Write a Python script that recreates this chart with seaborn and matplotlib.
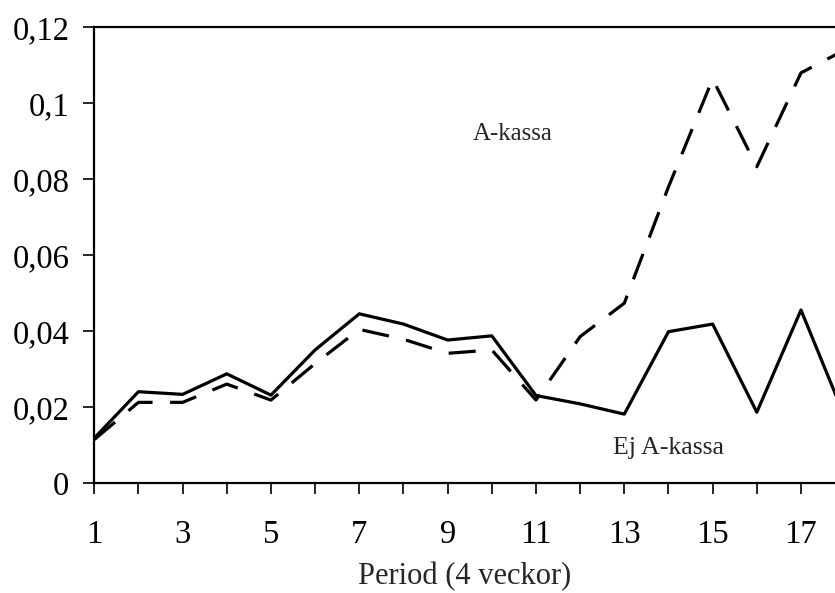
import pandas as pd
import matplotlib
matplotlib.use("Agg")
import matplotlib.pyplot as plt
import seaborn as sns

# --- Data ---
periods = list(range(1, 19))
ej_akassa = [0.0119, 0.0241, 0.0234, 0.0288, 0.0232, 0.0351, 0.0446, 0.0419, 0.0377,
             0.0388, 0.0231, 0.0209, 0.0182, 0.0399, 0.0419, 0.0187, 0.0456, 0.0172]
akassa = [0.0115, 0.0213, 0.0213, 0.0261, 0.0219, 0.0315, 0.0405, 0.0379, 0.0342,
          0.0351, 0.0219, 0.0386, 0.0474, 0.0780, 0.1064, 0.0833, 0.1080, 0.1141]
y_ticks = [0, 0.02, 0.04, 0.06, 0.08, 0.10, 0.12]
y_tick_labels = ["0", "0,02", "0,04", "0,06", "0,08", "0,1", "0,12"]
x_tick_labels = [str(p) if p % 2 == 1 else "" for p in periods]

df = pd.DataFrame({
    "Period": periods * 2,
    "Andel": ej_akassa + akassa,
    "Grupp": ["Ej A-kassa"] * len(periods) + ["A-kassa"] * len(periods),
})

sns.set_style("ticks")
plt.rcParams['font.family'] = ['Liberation Serif', 'DejaVu Serif']

fig = plt.figure(figsize=(8.35, 5.93), dpi=100)
ax = fig.add_axes([0.1129, 0.185, 0.8871, 0.769])

sns.lineplot(data=df, x="Period", y="Andel", style="Grupp",
             style_order=["Ej A-kassa", "A-kassa"],
             dashes={"Ej A-kassa": "", "A-kassa": (8.5, 5.5)},
             color="black", linewidth=2.3, legend=False, ax=ax)

ax.set_xticks(periods)
ax.set_xticklabels(x_tick_labels)
ax.set_yticks(y_ticks)
ax.set_yticklabels(y_tick_labels)
# limits after the ticks, otherwise set_xticks widens the view to 18
ax.set_xlim(1, 17.77)
ax.set_ylim(0, 0.12)
ax.tick_params(axis="both", labelsize=23.5, length=8, width=1.2, colors="black")
ax.tick_params(axis="x", pad=18)
ax.tick_params(axis="y", pad=10)
ax.set_xlabel("Period (4 veckor)", fontsize=22, labelpad=9)
ax.set_ylabel("")

for side in ["left", "bottom", "top"]:
    ax.spines[side].set_linewidth(1.6)
    ax.spines[side].set_color("black")
ax.spines["right"].set_visible(False)

ax.text(10.48, 0.0919, "A-kassa", fontsize=18, ha="center", va="center")
ax.text(13.99, 0.0093, "Ej A-kassa", fontsize=18.5, ha="center", va="center")

fig.savefig("out.png", dpi=100)
